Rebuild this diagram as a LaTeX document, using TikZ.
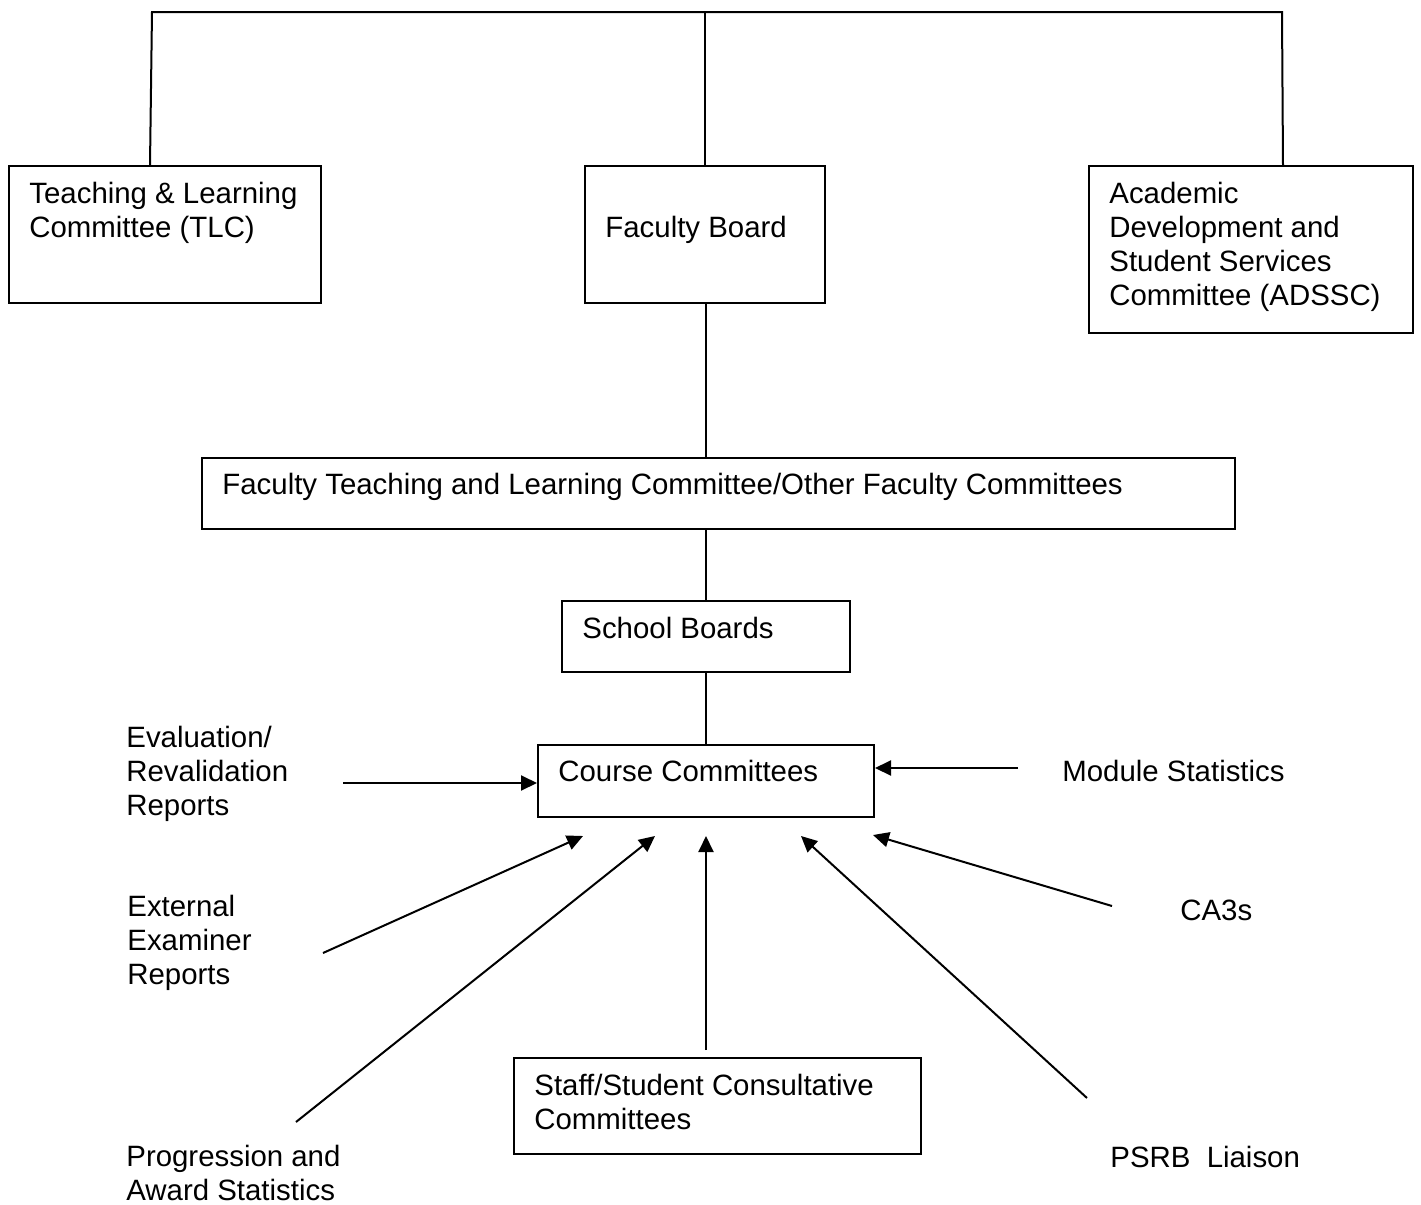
\documentclass[tikz,border=0pt]{standalone}
\usepackage{fontspec}
\setmainfont{Liberation Sans}
\usetikzlibrary{arrows.meta}

\begin{document}
\begin{tikzpicture}[x=0.5pt,y=-0.5pt,
    committee/.style={draw, line width=1pt, anchor=north west, inner sep=0pt},
    caption/.style={anchor=base west, inner sep=0pt, align=left, font=\fontsize{14.7}{17}\selectfont},
    link/.style={line width=1pt},
    feed/.style={line width=1pt, -{Triangle[length=8pt,width=7.5pt]}}]
    \useasboundingbox (0,0) rectangle (1421,1205);

    \node[committee, minimum width=156pt, minimum height=68.5pt] (tlc) at (8,165) {};
    \node[committee, minimum width=120pt, minimum height=68.5pt] (fb) at (584,165) {};
    \node[committee, minimum width=162pt, minimum height=83.5pt] (adssc) at (1088,165) {};
    \node[committee, minimum width=516.5pt, minimum height=35.5pt] (ftlc) at (201,457) {};
    \node[committee, minimum width=144pt, minimum height=35.5pt] (sb) at (561,600) {};
    \node[committee, minimum width=168pt, minimum height=36pt] (cc) at (537,744) {};
    \node[committee, minimum width=203.5pt, minimum height=48pt] (sscc) at (513,1057) {};

    \node[caption] (tlc-t) at (29,237) {Teaching \& Learning\\Committee (TLC)};
    \node[caption] (fb-t) at (605,237) {Faculty Board};
    \node[caption] (adssc-t) at (1109,305) {Academic\\Development and\\Student Services\\Committee (ADSSC)};
    \node[caption] (ftlc-t) at (222,494) {Faculty Teaching and Learning Committee/Other Faculty Committees};
    \node[caption] (sb-t) at (582,638) {School Boards};
    \node[caption] (cc-t) at (558,781) {Course Committees};
    \node[caption] (sscc-t) at (534,1129) {Staff/Student Consultative\\Committees};

    \node[caption] (eval) at (126,815) {Evaluation/\\Revalidation\\Reports};
    \node[caption] (mod) at (1062,781) {Module Statistics};
    \node[caption] (ext) at (127,984) {External\\Examiner\\Reports};
    \node[caption] (prog) at (126,1200) {Progression and\\Award Statistics};
    \node[caption] (psrb) at (1110,1167) {PSRB\ \ Liaison};
    \node[caption] (ca3) at (1180,920) {CA3s};

    \coordinate (top-l) at (152,12);
    \coordinate (top-c) at (705,12);
    \coordinate (top-r) at (1282,12);
    \draw[link] (150,0 |- tlc.north) -- (top-l) -- (top-r) -- (1283,0 |- adssc.north);
    \draw[link] (top-c) -- (top-c |- fb.north);
    \draw[link] (706,0 |- fb.south) -- (706,0 |- ftlc.north);
    \draw[link] (706,0 |- ftlc.south) -- (706,0 |- sb.north);
    \draw[link] (706,0 |- sb.south) -- (706,0 |- cc.north);

    \coordinate (eval-a) at (343,783);
    \coordinate (mod-a) at (1018,768);
    \coordinate (ext-a) at (323,953);
    \coordinate (ext-b) at (583,836);
    \coordinate (prog-a) at (296,1122);
    \coordinate (prog-b) at (655,836);
    \coordinate (sscc-b) at (706,836);
    \coordinate (psrb-a) at (1087,1098);
    \coordinate (psrb-b) at (801,836);
    \coordinate (ca3-a) at (1112,906);
    \coordinate (ca3-b) at (873,835);
    \draw[feed] (eval-a) -- (cc.west |- eval-a);
    \draw[feed] (mod-a) -- (cc.east |- mod-a);
    \draw[feed] (ext-a) -- (ext-b);
    \draw[feed] (prog-a) -- (prog-b);
    \draw[feed] ([yshift=3.5pt]sscc.north -| sscc-b) -- (sscc-b);
    \draw[feed] (psrb-a) -- (psrb-b);
    \draw[feed] (ca3-a) -- (ca3-b);
\end{tikzpicture}
\end{document}
